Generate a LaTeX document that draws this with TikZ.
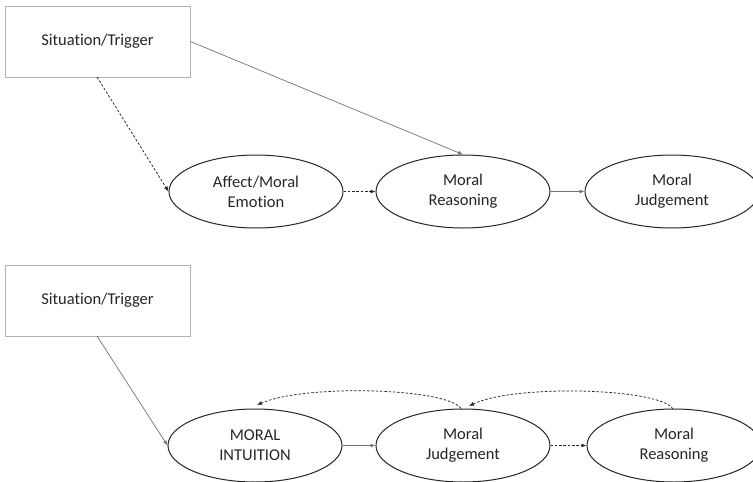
\documentclass[tikz,border=0pt]{standalone}
\usepackage{fontspec}
\setmainfont{Carlito}[Ligatures={NoCommon,NoContextual,NoRare},Contextuals={NoAlternate}]
\usetikzlibrary{shapes.geometric,arrows.meta}
\begin{document}
\begin{tikzpicture}[x=1pt,y=-1pt,
  every node/.style={font=\fontsize{16.5}{20}\selectfont, text=black!85},
  trig/.style={draw=black!30, line width=0.9pt, minimum width=185pt, minimum height=71pt, inner sep=0pt},
  oval/.style={ellipse, draw=black!85, line width=1pt, minimum width=174pt, minimum height=73pt, inner sep=0pt, align=center},
  solidarr/.style={draw=black!55, line width=0.7pt, -{Latex[length=5pt,width=4pt]}},
  dasharr/.style={draw=black!85, line width=0.75pt, dash pattern=on 2.5pt off 1.8pt, -{Latex[length=5pt,width=4pt]}}
]
\useasboundingbox (0,0) rectangle (753,482);
\fill[white] (0,0) rectangle (753,482);

% top diagram
\node[trig] (t1) at (97.5,41.5) {Situation/Trigger};
\node[oval] (a1) at (256,191.5) {Affect/Moral\\Emotion};
\node[oval] (r1) at (463,191.5) {Moral\\Reasoning};
\node[oval] (j1) at (672,191.5) {Moral\\Judgement};
\coordinate (t1s) at (97,77);
\draw[dasharr] (t1s) -- (a1.west);
\draw[solidarr] (t1.east) -- (r1.north);
\draw[dasharr] (a1.east) -- (r1.west);
\draw[solidarr] (r1.east) -- (j1.west);

% bottom diagram
\node[trig] (t2) at (97.5,300.5) {Situation/Trigger};
\node[oval] (i2) at (255,445.5) {MORAL\\INTUITION};
\node[oval] (j2) at (463,445.5) {Moral\\Judgement};
\node[oval] (r2) at (674,445.5) {Moral\\Reasoning};
\coordinate (t2s) at (97,336);
\draw[solidarr] (t2s) -- (i2.west);
\draw[solidarr] (i2.east) -- (j2.west);
\draw[dasharr] (j2.east) -- (r2.west);
\coordinate (js) at (461,408.5);
\coordinate (ie) at (257,405);
\coordinate (rs) at (673,409);
\coordinate (je) at (469,406);
\draw[dasharr] (js) .. controls (447,388) and (305,384) .. (ie);
\draw[dasharr] (rs) .. controls (660,388) and (515,384) .. (je);
\end{tikzpicture}
\end{document}
